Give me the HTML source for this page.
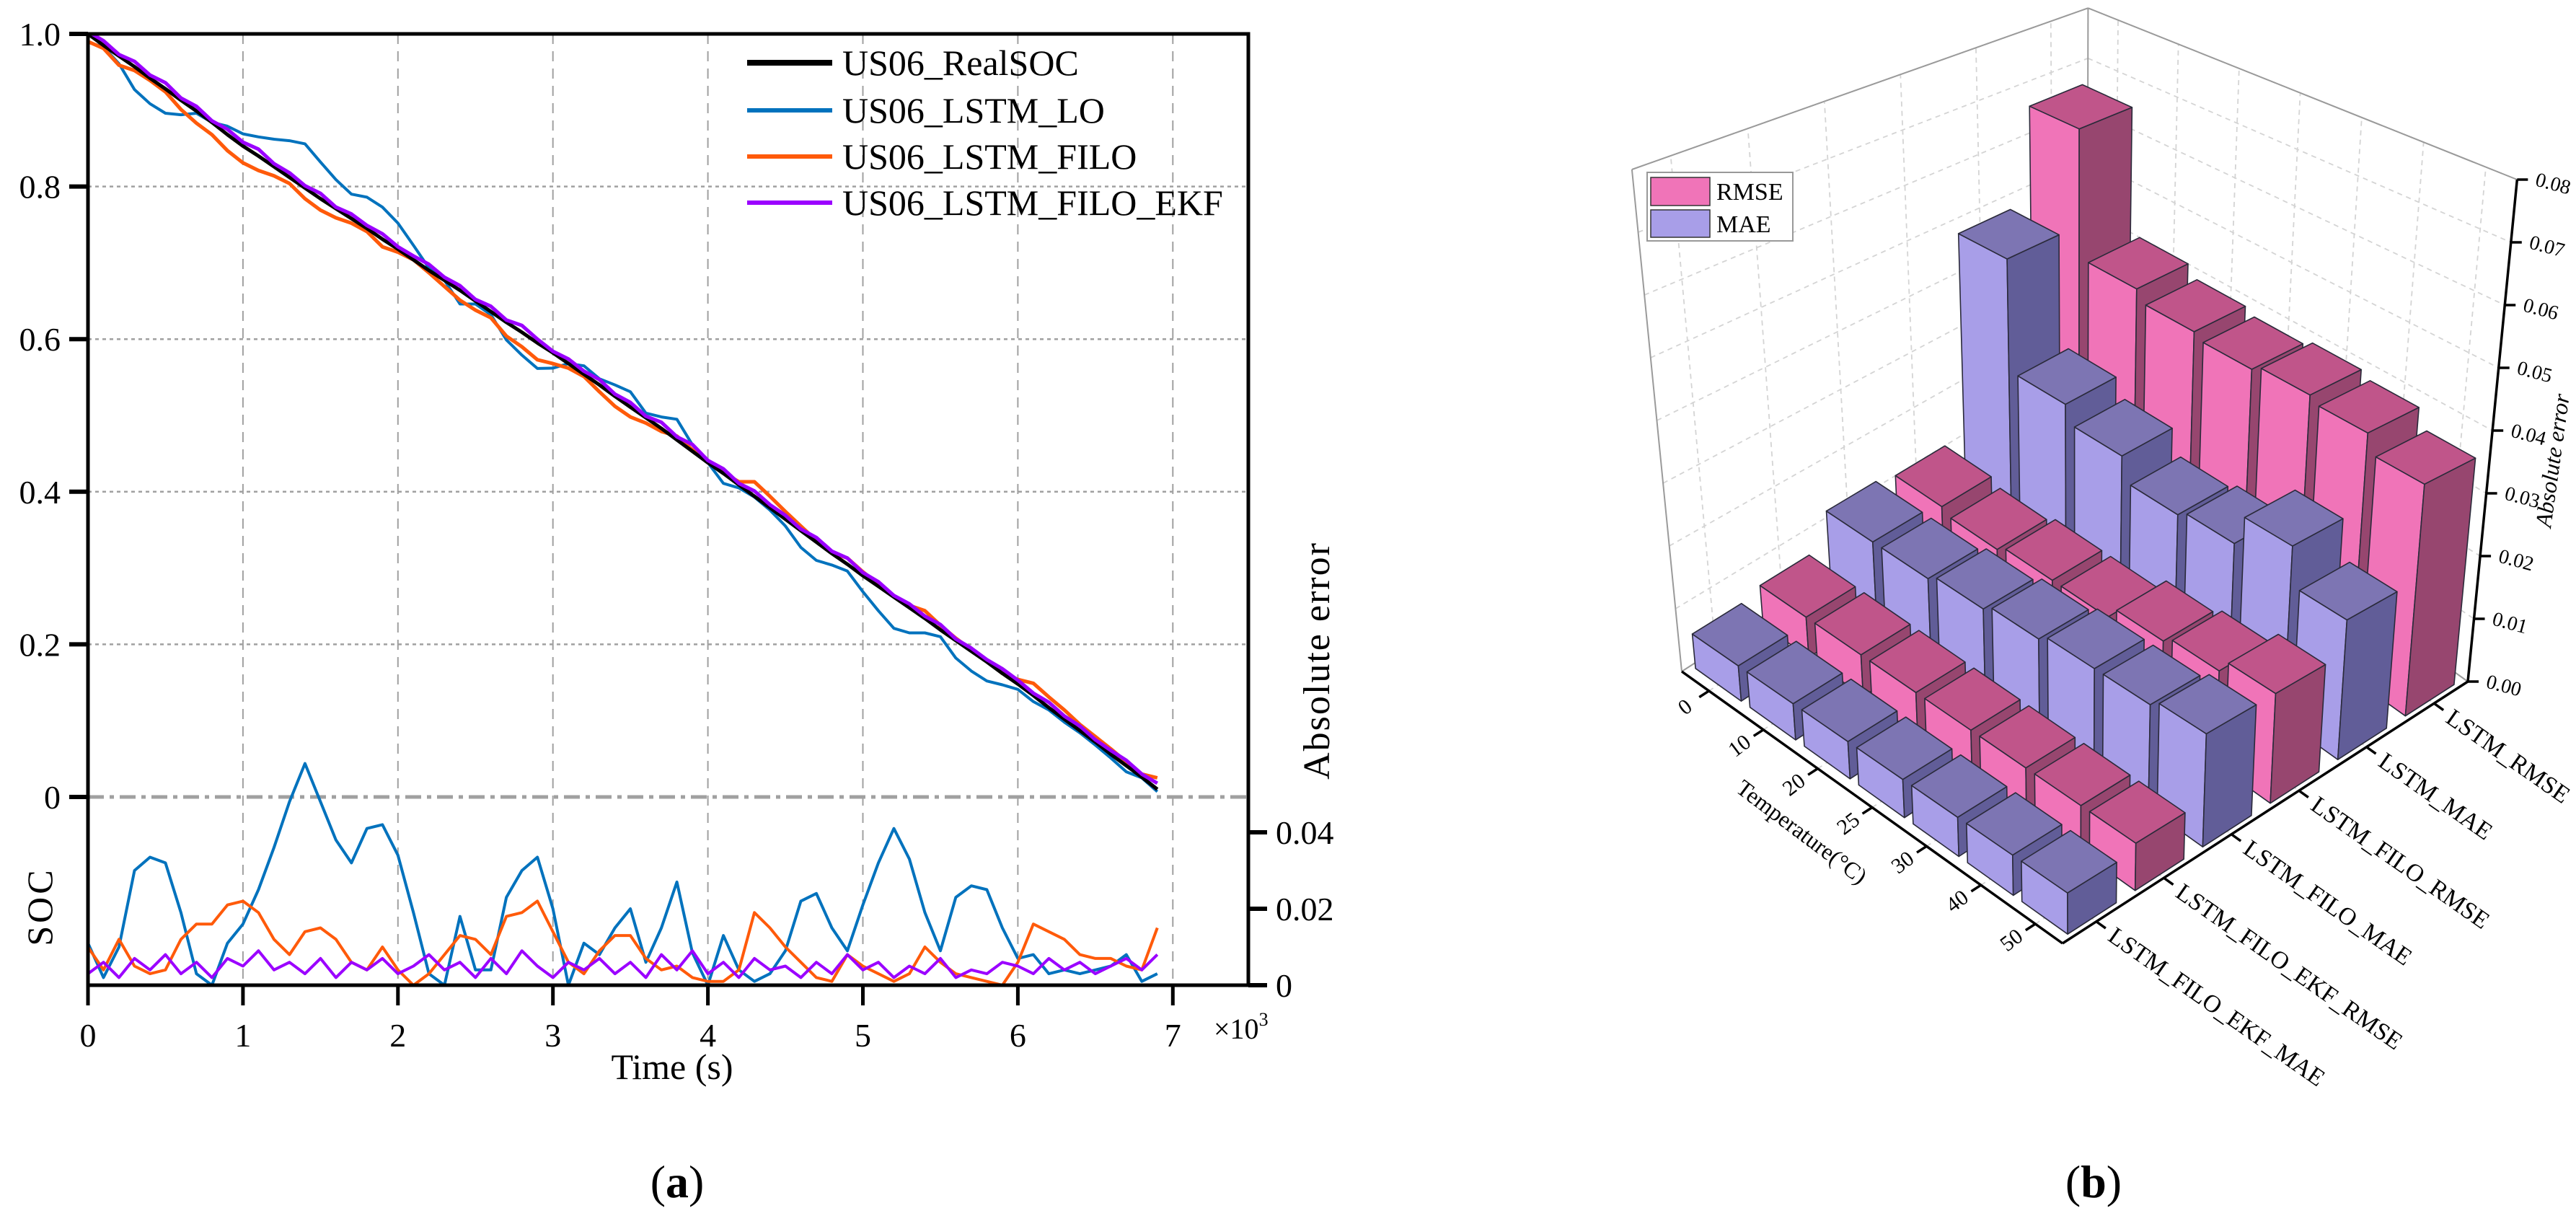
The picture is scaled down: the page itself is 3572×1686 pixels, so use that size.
<!DOCTYPE html>
<html><head><meta charset="utf-8"><style>
html,body{margin:0;padding:0;background:#fff;}
svg{display:block;font-family:"Liberation Serif",serif;}
</style></head><body>
<svg id="fig" width="3572" height="1686" viewBox="0 0 3572 1686" xmlns="http://www.w3.org/2000/svg">
<rect width="3572" height="1686" fill="#fff"/>
<defs><clipPath id="clipA"><rect x="122" y="47" width="1609" height="1319"/></clipPath></defs>
<g id="panelA"></g>
<g id="panelB"></g>
<text x="939" y="1660" font-size="64" text-anchor="middle">(<tspan font-weight="bold">a</tspan>)</text>
<text x="2903" y="1660" font-size="64" text-anchor="middle">(<tspan font-weight="bold">b</tspan>)</text>
</svg>
<script>
// ---------- Panel (a) data ----------
const timeStep = 100; // seconds between samples
const realSOC = [1.000,0.985,0.971,0.957,0.942,0.928,0.913,0.899,0.884,0.868,
0.853,0.840,0.826,0.812,0.798,0.784,0.771,0.758,0.745,0.731,
0.718,0.704,0.690,0.677,0.664,0.650,0.636,0.622,0.609,0.595,
0.582,0.568,0.554,0.540,0.525,0.511,0.497,0.483,0.468,0.453,
0.438,0.424,0.409,0.394,0.379,0.364,0.349,0.334,0.319,0.305,
0.290,0.276,0.262,0.248,0.234,0.219,0.205,0.191,0.177,0.162,
0.148,0.133,0.117,0.102,0.087,0.072,0.056,0.041,0.026,0.010];
const errLO = [-0.011,-0.002,-0.010,-0.030,-0.0335,-0.032,-0.019,-0.003,0.000,0.011,
0.016,0.025,0.036,0.048,0.058,0.048,0.038,0.032,0.041,0.042,
0.034,0.019,0.003,0.000,-0.018,-0.004,-0.004,-0.023,-0.030,-0.0335,
-0.020,0.000,0.011,0.008,0.015,0.020,0.006,0.015,0.027,0.0085,
0.000,-0.013,-0.004,-0.001,-0.003,-0.009,-0.022,-0.024,-0.015,-0.009,
-0.021,-0.032,-0.041,-0.033,-0.019,-0.009,-0.023,-0.026,-0.025,-0.015,
-0.007,-0.008,-0.003,-0.004,-0.003,-0.004,-0.005,-0.008,-0.001,-0.003];
const errFILO = [-0.010,-0.004,-0.012,-0.005,-0.003,-0.004,-0.012,-0.016,-0.016,-0.021,
-0.022,-0.019,-0.012,-0.008,-0.014,-0.015,-0.012,-0.006,-0.004,-0.010,
-0.004,0.000,-0.003,-0.008,-0.013,-0.012,-0.008,-0.018,-0.019,-0.022,
-0.014,-0.006,-0.003,-0.009,-0.013,-0.013,-0.007,-0.004,0.005,0.002,
0.001,0.001,0.004,0.019,0.015,0.010,0.006,0.002,0.001,0.008,
0.005,0.003,0.001,0.003,0.010,0.006,0.003,0.002,0.001,0.000,
0.006,0.016,0.014,0.012,0.008,0.007,0.007,0.005,0.004,0.015];
const errEKF = [0.003,0.006,0.002,0.007,0.004,0.008,0.003,0.006,0.002,0.007,
0.005,0.009,0.004,0.006,0.003,0.007,0.002,0.006,0.004,0.007,
0.003,0.005,0.008,0.004,0.006,0.002,0.007,0.003,0.009,0.005,
0.002,0.006,0.004,0.007,0.003,0.006,0.002,0.008,0.004,0.009,
0.003,0.006,0.002,0.007,0.004,0.005,0.002,0.006,0.003,0.008,
0.004,0.006,0.002,0.005,0.003,0.007,0.002,0.004,0.003,0.006,
0.005,0.003,0.007,0.004,0.006,0.003,0.005,0.007,0.004,0.008];
const xTicks = ["0","1","2","3","4","5","6","7"];
const socTicks = [1.0,0.8,0.6,0.4,0.2,0];
const socTickLabels = ["1.0","0.8","0.6","0.4","0.2","0"];
const errTicks = [0,0.02,0.04];
const errTickLabels = ["0","0.02","0.04"];
const legendLabels = ["US06_RealSOC","US06_LSTM_LO","US06_LSTM_FILO","US06_LSTM_FILO_EKF"];

// ---------- Panel (b) data ----------
const temps = ["0","10","20","25","30","40","50"];
const seriesNames = ["LSTM_FILO_EKF_MAE","LSTM_FILO_EKF_RMSE","LSTM_FILO_MAE","LSTM_FILO_RMSE","LSTM_MAE","LSTM_RMSE"];
const ekfMAE   = [0.0055,0.0055,0.0055,0.0055,0.0055,0.0055,0.0055];
const ekfRMSE  = [0.0065,0.0065,0.0065,0.0065,0.0065,0.0065,0.0065];
const filoMAE  = [0.012,0.012,0.013,0.014,0.015,0.015,0.016];
const filoRMSE = [0.011,0.010,0.011,0.011,0.013,0.014,0.016];
const lstmMAE  = [0.048,0.028,0.025,0.021,0.022,0.027,0.021];
const lstmRMSE = [0.066,0.042,0.040,0.039,0.040,0.039,0.036];
const zTicks = [0,0.01,0.02,0.03,0.04,0.05,0.06,0.07,0.08];
const zTickLabels = ["0.00","0.01","0.02","0.03","0.04","0.05","0.06","0.07","0.08"];

const NS="http://www.w3.org/2000/svg";
function mk(tag, attrs, parent){const e=document.createElementNS(NS,tag);for(const k in attrs)e.setAttribute(k,attrs[k]);parent.appendChild(e);return e;}

// ================= Panel A =================
(function(){
const g=document.getElementById('panelA');
const X0=122,X1=1731,Y0=47,Y1=1366,PX=214.9;
const xS=t=>X0+t/1000*PX;
const yS=v=>1105-v*1058;
const yE=v=>1366-v*5300;
for(let i=1;i<xTicks.length;i++){
  const l=mk('line',{x1:xS(i*1000),x2:xS(i*1000),y1:Y0,y2:Y1,stroke:'#a0a0a0','stroke-width':2,'stroke-dasharray':'14,10'},g);
  
  
}
socTicks.forEach(v=>{ if(v>0&&v<1){
  const l=mk('line',{x1:X0,x2:X1,y1:yS(v),y2:yS(v),stroke:'#a0a0a0','stroke-width':2.5,'stroke-dasharray':'5,5'},g);
  
  
}});
const z=mk('line',{x1:X0,x2:X1,y1:yS(0),y2:yS(0),stroke:'#a0a0a0','stroke-width':5,'stroke-dasharray':'22,8,6,8'},g);


const cg=mk('g',{'clip-path':'url(#clipA)'},g);
function path(vals,f,color,w,name){
  let d='';vals.forEach((v,i)=>{d+=(i?'L':'M')+xS(i*timeStep).toFixed(1)+','+f(v,i).toFixed(1);});
  const p=mk('path',{d:d,fill:'none',stroke:color,'stroke-width':w,'stroke-linejoin':'round'},cg);
  
  
}
const C={real:'#000000',lo:'#0072bd',filo:'#ff5a0a',ekf:'#9b00ff'};
path(errLO,v=>yE(Math.abs(v)),C.lo,4,'lo-error-line');
path(errFILO,v=>yE(Math.abs(v)),C.filo,4,'filo-error-line');
path(errEKF,v=>yE(Math.abs(v)),C.ekf,4,'ekf-error-line');
path(errLO,(v,i)=>yS(realSOC[i]+v),C.lo,4,'lo-soc-line');
path(errFILO,(v,i)=>yS(realSOC[i]+v),C.filo,5,'filo-soc-line');
path(realSOC,v=>yS(v),C.real,5,'real-soc-line');
path(errEKF,(v,i)=>yS(realSOC[i]+v),C.ekf,5,'ekf-soc-line');
const fr=mk('rect',{x:X0,y:Y0,width:X1-X0,height:Y1-Y0,fill:'none',stroke:'#000','stroke-width':5},g);


socTicks.forEach((v,i)=>{
  mk('line',{x1:X0-26,x2:X0,y1:yS(v),y2:yS(v),stroke:'#000','stroke-width':6},g);
  const t=mk('text',{x:X0-38,y:yS(v)+16,'font-size':46,'text-anchor':'end'},g);
  t.textContent=socTickLabels[i];
  
  
});
errTicks.forEach((v,i)=>{
  mk('line',{x1:X1,x2:X1+26,y1:yE(v),y2:yE(v),stroke:'#000','stroke-width':6},g);
  const t=mk('text',{x:X1+38,y:yE(v)+16,'font-size':46},g);
  t.textContent=errTickLabels[i];
  
  
});
xTicks.forEach((s,i)=>{
  mk('line',{x1:xS(i*1000),x2:xS(i*1000),y1:Y1,y2:Y1+28,stroke:'#000','stroke-width':5},g);
  const t=mk('text',{x:xS(i*1000),y:1451,'font-size':46,'text-anchor':'middle'},g);
  t.textContent=s;
  
  
});
const ex=mk('text',{x:1683,y:1440,'font-size':40},g);
ex.innerHTML='×10<tspan dy="-18" font-size="26">3</tspan>';


const xt=mk('text',{x:932,y:1496,'font-size':50,'text-anchor':'middle'},g);
xt.textContent='Time (s)';


const yt=mk('text',{x:0,y:0,'font-size':50,'text-anchor':'middle',transform:'translate(72,1257) rotate(-90)','letter-spacing':'4'},g);
yt.textContent='SOC';


const et=mk('text',{x:0,y:0,'font-size':52,'text-anchor':'middle',transform:'translate(1843,916) rotate(-90)','letter-spacing':'2'},g);
et.textContent='Absolute error';


const cols=[C.real,C.lo,C.filo,C.ekf];const ly=[87,153,217,281];
legendLabels.forEach((s,i)=>{
  const lg=mk('g',{},g);
  
  
  mk('line',{x1:1036,x2:1154,y1:ly[i],y2:ly[i],stroke:cols[i],'stroke-width':i==0?8:6},lg);
  const t=mk('text',{x:1168,y:ly[i]+17,'font-size':50},lg);
  t.textContent=s;
})
})();

// ================= Panel B =================
(function(){
const g=document.getElementById('panelB');
const L=[2332,931],F=[2860,1308],R=[3422,945];
function P(a,b,v){
  const bx=L[0]+a*(F[0]-L[0])+b*(R[0]-F[0]);
  const by=L[1]+a*(F[1]-L[1])+b*(R[1]-F[1]);
  const d=((1-a)+b)/2;
  const s=8700*(1-0.4*(d-0.5))*v;
  return [bx+0.125*(bx-2880)*s/690, by-s];
}
const pts=arr=>arr.map(p=>p[0].toFixed(1)+','+p[1].toFixed(1)).join(' ');
function line(p,q,attrs,name){const l=mk('line',Object.assign({x1:p[0],y1:p[1],x2:q[0],y2:q[1]},attrs),g);
  
  return l;}
const grid={stroke:'#d4d4d4','stroke-width':1.8,'stroke-dasharray':'7,6'};
zTicks.forEach(v=>{ if(v>0){ line(P(0,0,v),P(0,1,v),grid,'left-wall-gridline'); line(P(0,1,v),P(1,1,v),grid,'back-wall-gridline'); }});
for(let k=0;k<seriesNames.length;k++){const b=(k+0.5)/6; line(P(0,b,0),P(0,b,0.08),grid,'left-wall-gridline'); line(P(0,b,0),P(1,b,0),grid,'floor-gridline');}
for(let i=0;i<temps.length;i++){const a=(i+0.5)/7; line(P(a,1,0),P(a,1,0.08),grid,'back-wall-gridline'); line(P(a,0,0),P(a,1,0),grid,'floor-gridline');}
const box={stroke:'#9a9a9a','stroke-width':2};
line(P(0,0,0),P(0,0,0.08),box,'box-edge');
line(P(0,1,0),P(0,1,0.08),box,'box-edge');
line(P(0,0,0.08),P(0,1,0.08),box,'box-edge');
line(P(0,1,0.08),P(1,1,0.08),box,'box-edge');
line(P(0,0,0),P(0,1,0),box,'box-edge');
line(P(0,1,0),P(1,1,0),box,'box-edge');
const rows=[ekfMAE,ekfRMSE,filoMAE,filoRMSE,lstmMAE,lstmRMSE];
const pal={rmse:['#f074b8','#c0558a','#97466f'],mae:['#a89ee8','#7d75b3','#615d98']};
const wT=0.84,wS=0.72;
for(let k=rows.length-1;k>=0;k--){
  const c=(k%2==1)?pal.rmse:pal.mae;
  for(let i=0;i<temps.length;i++){
    const v=rows[k][i];
    const ac=(i+0.5)/7, bc=(k+0.5)/6;
    const a0=ac-wT/14,a1=ac+wT/14,b0=bc-wS/12,b1=bc+wS/12;
    const bg=mk('g',{stroke:'#2a2a3a','stroke-width':1.6,'stroke-linejoin':'round'},g);
    
    
    mk('polygon',{points:pts([P(a0,b0,0),P(a1,b0,0),P(a1,b0,v),P(a0,b0,v)]),fill:c[0]},bg);
    mk('polygon',{points:pts([P(a1,b0,0),P(a1,b1,0),P(a1,b1,v),P(a1,b0,v)]),fill:c[2]},bg);
    mk('polygon',{points:pts([P(a0,b0,v),P(a1,b0,v),P(a1,b1,v),P(a0,b1,v)]),fill:c[1]},bg);
  }
}
const ax={stroke:'#000','stroke-width':3.5};
line(P(0,0,0),P(1,0,0),ax,'temperature-axis');
line(P(1,0,0),P(1,1,0),ax,'series-axis');
line(P(1,1,0),P(1,1,0.08),ax,'z-axis');
const uS=[-(R[0]-F[0]),-(R[1]-F[1])];const nS=Math.hypot(uS[0],uS[1]);uS[0]/=nS;uS[1]/=nS;
temps.forEach((s,i)=>{
  const p=P((i+0.5)/7,0,0);
  line(p,[p[0]+uS[0]*16,p[1]+uS[1]*16],ax,'temperature-tick');
  const lx=p[0]+uS[0]*40,ly=p[1]+uS[1]*40;
  const t=mk('text',{x:0,y:0,'font-size':30,'text-anchor':'middle',transform:`translate(${lx.toFixed(1)},${ly.toFixed(1)}) rotate(-37)`,dy:'0.35em'},g);
  t.textContent=s;
  
  
});
const tt=mk('text',{x:0,y:0,'font-size':32,'text-anchor':'middle',transform:'translate(2492,1162) rotate(37)'},g);
tt.textContent='Temperature(°C)';


const uT=[F[0]-L[0],F[1]-L[1]];const nT=Math.hypot(uT[0],uT[1]);uT[0]/=nT;uT[1]/=nT;
seriesNames.forEach((s,k)=>{
  const p=P(1,(k+0.5)/6,0);
  line(p,[p[0]+uT[0]*16,p[1]+uT[1]*16],ax,'series-tick');
  const lx=p[0]+uT[0]*26,ly=p[1]+uT[1]*26;
  const t=mk('text',{x:0,y:0,'font-size':34,transform:`translate(${lx.toFixed(1)},${ly.toFixed(1)}) rotate(35)`,dy:'0.35em'},g);
  t.textContent=s;
  
  
});
zTicks.forEach((v,i)=>{
  const p=P(1,1,v);
  line(p,[p[0]+15,p[1]],ax,'z-tick');
  const t=mk('text',{x:0,y:0,'font-size':28,transform:`translate(${(p[0]+24).toFixed(1)},${(p[1]+8).toFixed(1)}) rotate(15)`},g);
  t.textContent=zTickLabels[i];
  
  
});
const zt=mk('text',{x:0,y:0,'font-size':32,'font-style':'italic','text-anchor':'middle',transform:'translate(3550,640) rotate(-82)'},g);
zt.textContent='Absolute error';


const lg=mk('g',{},g);


mk('rect',{x:2284,y:239,width:202,height:95,fill:'#fff',stroke:'#999','stroke-width':2},lg);
mk('rect',{x:2289,y:246,width:82,height:39,fill:pal.rmse[0],stroke:'#333','stroke-width':1.5},lg);
mk('rect',{x:2289,y:291,width:82,height:38,fill:pal.mae[0],stroke:'#333','stroke-width':1.5},lg);
const t1=mk('text',{x:2380,y:277,'font-size':34},lg);t1.textContent='RMSE';


const t2=mk('text',{x:2380,y:322,'font-size':34},lg);t2.textContent='MAE';


})();
</script>
</body></html>
